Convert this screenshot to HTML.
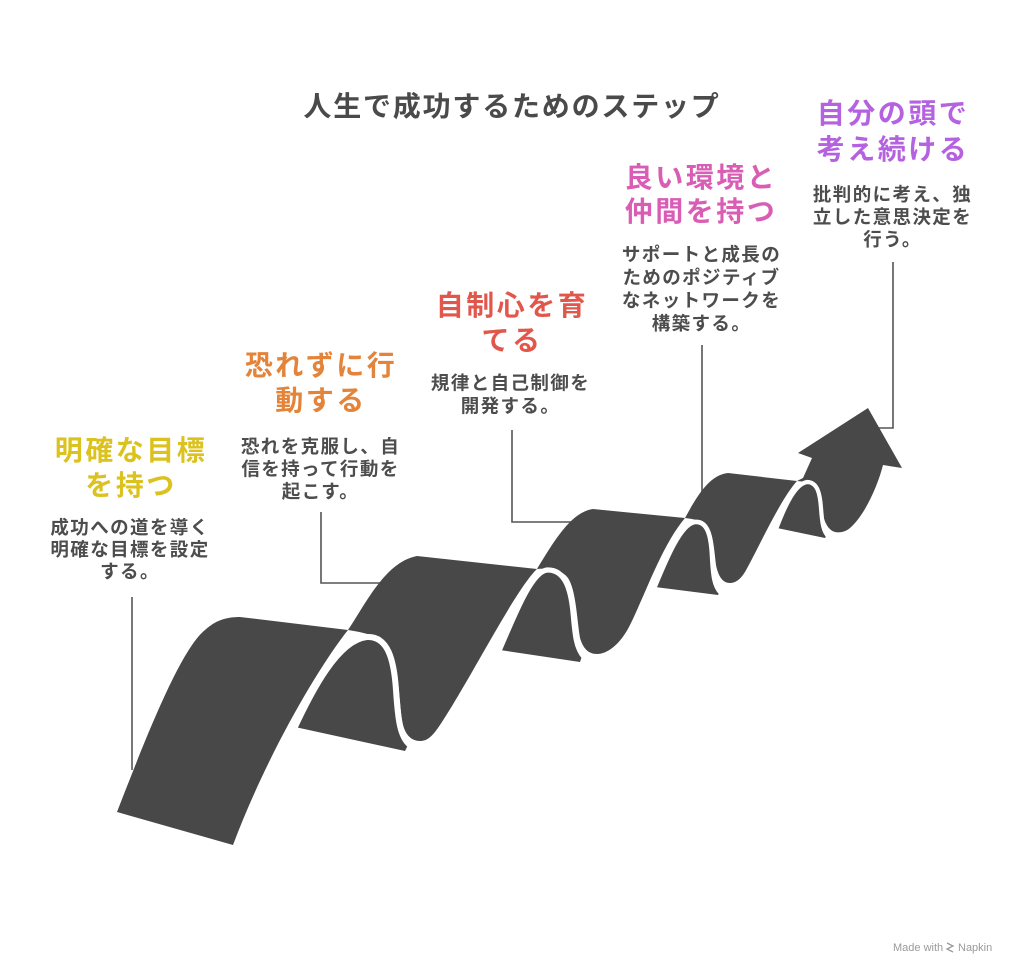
<!DOCTYPE html>
<html>
<head>
<meta charset="utf-8">
<style>
  html, body { margin:0; padding:0; background:#ffffff; }
  body { width:1024px; height:976px; overflow:hidden; }
  svg { display:block; }
  .t { font-family:"Liberation Sans","Noto Sans CJK JP",sans-serif; font-weight:700; text-anchor:middle; }
  .title { font-size:28px; fill:#4a4a4a; letter-spacing:1.8px; }
  .h { font-size:28px; letter-spacing:2.5px; }
  .b { font-size:18.5px; fill:#4d4d4d; letter-spacing:1.4px; }
</style>
</head>
<body>
<svg width="1024" height="976" viewBox="0 0 1024 976" xmlns="http://www.w3.org/2000/svg">
  <rect width="1024" height="976" fill="#ffffff"/>

  <!-- connectors -->
  <g fill="none" stroke="#555555" stroke-width="1.6">
    <path d="M132,597 V770"/>
    <path d="M321,512 V583 H383"/>
    <path d="M512,430 V522 H572"/>
    <path d="M702,345 V492"/>
    <path d="M893,262 V428 H876"/>
  </g>

  <!-- ribbon -->
  <g fill="#484848">
    <!-- under-arch pieces -->
    <path d="M295,727 C312,690 338,640 367,637 C390,636 396,665 398,700 C400,725 402,738 408,745 L405,751 Z"/>
    <path d="M500,650 C512,622 530,572 547,570 C565,569 572,590 574,610 C576,635 577,648 582,656 L580,662 Z"/>
    <path d="M655,587 C665,562 680,524 695,522 C707,521 711,535 712,550 C713,570 714,585 720,591 L718,595 Z"/>
    <path d="M777,528 C785,505 795,484 807,482 C818,482 820,495 821,505 C822,520 823,530 827,535 L825,538 Z"/>

    <!-- S1 -->
    <path d="M117,812 C145,740 180,650 205,630 C215,621 225,617 240,617 L348,630 C320,665 268,752 233,845 Z"/>
    <!-- S2 -->
    <path d="M348,630 C365,605 385,562 417,556 L537,569 C515,590 470,680 440,725 C432,737 427,741 420,741 C410,741 404,733 402,720 C399,700 399,662 388,646 C380,637 368,633 348,630 Z"/>
    <!-- S3 -->
    <path d="M537,569 C552,545 570,512 593,509 L685,518 C662,545 645,595 630,625 C620,645 607,654 597,654 C588,654 583,648 580,638 C577,620 576,590 568,578 C562,570 552,568 537,569 Z"/>
    <!-- S4 -->
    <path d="M685,518 C695,500 708,475 728,473 L797,481 C780,500 760,545 745,572 C740,580 735,583 730,583 C722,583 718,575 716,565 C714,548 713,530 705,524 C700,520 692,519 685,518 Z"/>
    <!-- arrow -->
    <path d="M797,481 L803,478 L812,458 L798,453 L868,408 L902,468 L883,465 C878,485 865,515 850,528 C845,532 840,533 835,532 C828,530 824,522 822,510 C820,495 818,485 807,482 L797,481 Z"/>
  </g>

  <!-- white arch gaps -->
  <g fill="none" stroke="#ffffff" stroke-linecap="round">
    <path stroke-width="6" d="M293,731 C312,690 338,640 367,637 C388,636 394,660 396,690 C398,720 400,737 410,745"/>
    <path stroke-width="5.2" d="M498,653 C512,622 530,572 547,570 C566,569 571,592 573,612 C575,635 576,648 584,657"/>
    <path stroke-width="4.6" d="M653,591 C665,562 680,524 695,522 C708,521 711,537 712,555 C713,575 714,586 721,593"/>
    <path stroke-width="4.2" d="M775,532 C785,505 795,484 807,482 C818,482 820,495 821,508 C822,522 823,532 829,537"/>
  </g>

  <!-- title -->
  <text class="t title" x="512" y="116">人生で成功するためのステップ</text>

  <!-- step 1 -->
  <text class="t h" fill="#dcc21e" x="131" y="460">明確な目標</text>
  <text class="t h" fill="#dcc21e" x="131" y="495">を持つ</text>
  <text class="t b" x="130" y="534">成功への道を導く</text>
  <text class="t b" x="130" y="556">明確な目標を設定</text>
  <text class="t b" x="130" y="578">する。</text>

  <!-- step 2 -->
  <text class="t h" fill="#e3843a" x="321" y="375">恐れずに行</text>
  <text class="t h" fill="#e3843a" x="321" y="410">動する</text>
  <text class="t b" x="320.5" y="453">恐れを克服し、自</text>
  <text class="t b" x="320.5" y="475.5">信を持って行動を</text>
  <text class="t b" x="320.5" y="498">起こす。</text>

  <!-- step 3 -->
  <text class="t h" fill="#e2574c" x="512" y="315">自制心を育</text>
  <text class="t h" fill="#e2574c" x="512" y="350">てる</text>
  <text class="t b" x="510.5" y="389.5">規律と自己制御を</text>
  <text class="t b" x="510.5" y="412.5">開発する。</text>

  <!-- step 4 -->
  <text class="t h" fill="#d95cb5" x="701" y="187">良い環境と</text>
  <text class="t h" fill="#d95cb5" x="701" y="221">仲間を持つ</text>
  <text class="t b" x="701.5" y="261">サポートと成長の</text>
  <text class="t b" x="701.5" y="284">ためのポジティブ</text>
  <text class="t b" x="701.5" y="307">なネットワークを</text>
  <text class="t b" x="701.5" y="330">構築する。</text>

  <!-- step 5 -->
  <text class="t h" fill="#b462e0" x="893" y="123">自分の頭で</text>
  <text class="t h" fill="#b462e0" x="893" y="159">考え続ける</text>
  <text class="t b" x="892.5" y="201">批判的に考え、独</text>
  <text class="t b" x="892.5" y="223.5">立した意思決定を</text>
  <text class="t b" x="892.5" y="246">行う。</text>

  <!-- footer -->
  <text x="893" y="951" font-family="Liberation Sans, sans-serif" font-size="11" fill="#9a9a9a">Made with</text>
  <g stroke="#9a9a9a" stroke-width="1.3" fill="none">
    <path d="M947,943 L953,946 L947,949 L953,952"/>
  </g>
  <text x="958" y="951" font-family="Liberation Sans, sans-serif" font-size="11" fill="#9a9a9a">Napkin</text>
</svg>
</body>
</html>
